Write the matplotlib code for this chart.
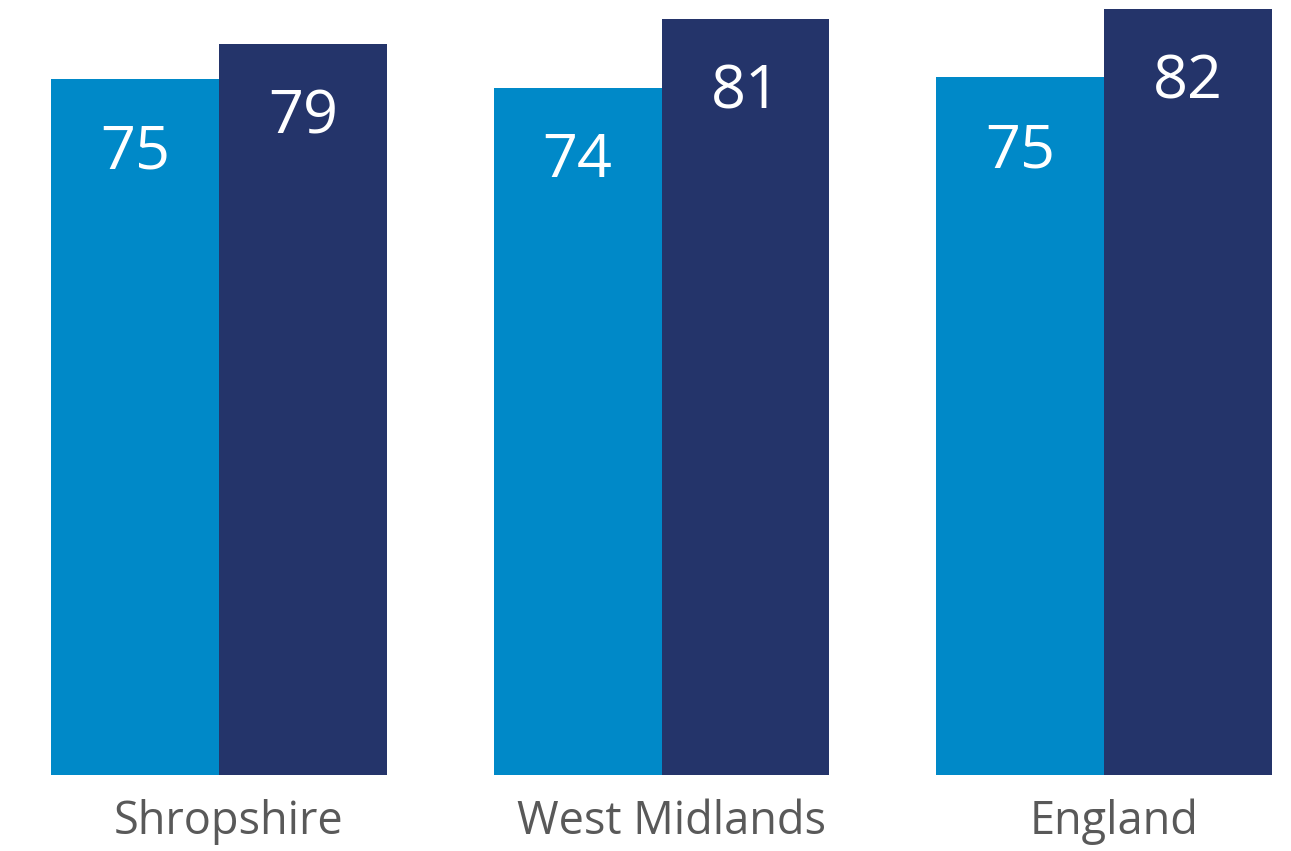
import numpy as np
import matplotlib.pyplot as plt

plt.rcParams['font.family'] = ['Open Sans', 'DejaVu Sans']

areas = ['Shropshire', 'West Midlands', 'England']
series_a = [74.8, 73.9, 75.0]
series_b = [78.6, 81.3, 82.4]
colour_a = '#0089c8'
colour_b = '#24346a'

fig = plt.figure(figsize=(12.91, 8.51), dpi=100)
ax = fig.add_axes([0, 0.0893, 1, 0.9107])

x = np.arange(len(areas))
w = 0.379
bars_a = ax.bar(x - w / 2, series_a, w, color=colour_a)
bars_b = ax.bar(x + w / 2, series_b, w, color=colour_b)

for bars in (bars_a, bars_b):
    for b in bars:
        h = b.get_height()
        ax.annotate('%d' % round(h), (b.get_x() + b.get_width() / 2, h),
                    xytext=(0, -53), textcoords='offset points',
                    ha='center', va='center', color='white', fontsize=44)

ax.set_xlim(-0.495, 2.4226)
ax.set_ylim(0, 83.33)
ax.set_xticks(x + 0.022)
ax.set_xticklabels(areas, fontsize=32.5, color='#595959')
ax.tick_params(axis='x', length=0, pad=17)
ax.set_yticks([])
for s in ax.spines.values():
    s.set_visible(False)

fig.savefig('out.png', dpi=100)
